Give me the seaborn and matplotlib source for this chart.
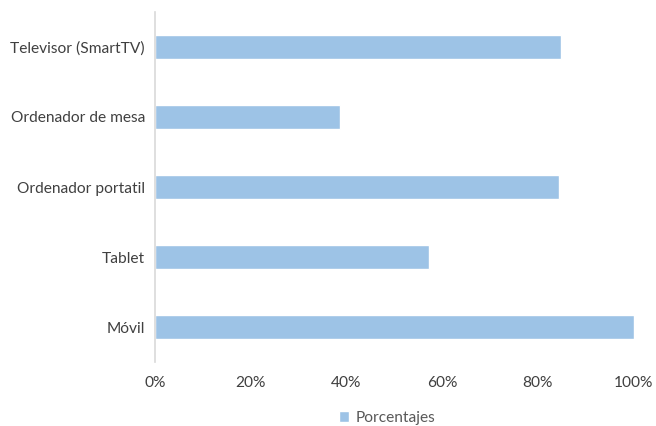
import matplotlib
matplotlib.use("Agg")
import matplotlib.pyplot as plt
import seaborn as sns
import pandas as pd
from matplotlib.ticker import PercentFormatter
from matplotlib.patches import Patch

dispositivos = ["Televisor (SmartTV)", "Ordenador de mesa", "Ordenador portatil", "Tablet", "Móvil"]
porcentajes = [84.8, 38.6, 84.4, 57.2, 100.0]
ticks_x = [0, 20, 40, 60, 80, 100]
serie = "Porcentajes"

df = pd.DataFrame({"Dispositivo": dispositivos, "Valor": porcentajes})

sns.set_theme(style="white")
plt.rcParams["font.family"] = ["Lato", "DejaVu Sans"]

azul = "#9DC3E6"
texto = "#404040"

fig = plt.figure(figsize=(6.56, 4.26), dpi=100)
ax = fig.add_axes([0.236, 0.150, 0.730, 0.822])

sns.barplot(data=df, x="Valor", y="Dispositivo", orient="h", color=azul,
            width=0.34, saturation=1, ax=ax)

ax.set_xlim(0, 100)
ax.set_xticks(ticks_x)
ax.xaxis.set_major_formatter(PercentFormatter(decimals=0))
ax.set_xlabel("")
ax.set_ylabel("")
for s in ["top", "right", "bottom"]:
    ax.spines[s].set_visible(False)
ax.spines["left"].set_color("#D9D9D9")
ax.spines["left"].set_linewidth(1.2)
ax.tick_params(axis="both", length=0, labelsize=11.2, colors=texto)
ax.tick_params(axis="x", pad=10)
ax.tick_params(axis="y", pad=7)

fig.legend(handles=[Patch(facecolor=azul, label=serie)], loc="center",
           bbox_to_anchor=(0.59, 0.018), frameon=False, fontsize=11.2,
           handlelength=0.7, handleheight=0.7, handletextpad=0.4,
           labelcolor="#595959")

fig.savefig("out.png", dpi=100)
